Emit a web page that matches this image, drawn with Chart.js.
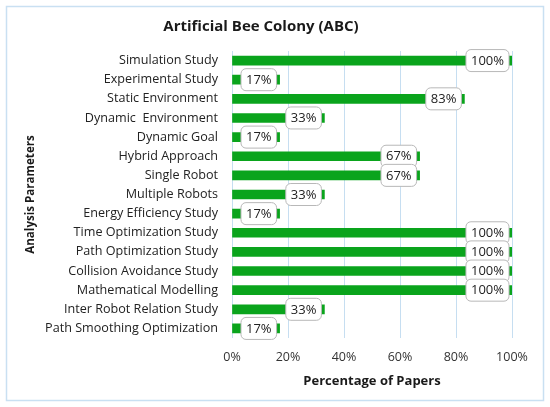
<!DOCTYPE html>
<html><head><meta charset="utf-8">
<script src="https://cdn.jsdelivr.net/npm/chart.js@4"></script>
<style>html,body{margin:0;padding:0;background:#fff}#wrap{width:550px;height:407px;position:relative}</style>
</head><body><div id="wrap"><canvas id="c" width="550" height="407"></canvas></div>
<script>
const categories = ["Simulation Study","Experimental Study","Static Environment","Dynamic  Environment","Dynamic Goal","Hybrid Approach","Single Robot","Multiple Robots","Energy Efficiency Study","Time Optimization Study","Path Optimization Study","Collision Avoidance Study","Mathematical Modelling","Inter Robot Relation Study","Path Smoothing Optimization"];
const percentages = [100,17,83,33,17,67,67,33,17,100,100,100,100,33,17];
const xTicks = [0,20,40,60,80,100];

const FONT = "'Open Sans', sans-serif";

const frame = {
  id:'frame',
  beforeDraw(chart){
    const ctx = chart.ctx; ctx.save();
    ctx.fillStyle='#fff'; ctx.fillRect(0,0,chart.width,chart.height);
    ctx.strokeStyle='#c9e0f2'; ctx.lineWidth=1.5;
    ctx.strokeRect(6.5,6.5,537,394);
    ctx.restore();
  }
};
const labels = {
  id:'boxlabels',
  afterDatasetsDraw(chart){
    const ctx = chart.ctx; ctx.save();
    ctx.font = "13px "+FONT;
    ctx.textAlign='center'; ctx.textBaseline='middle';
    const meta = chart.getDatasetMeta(0);
    meta.data.forEach((bar,i)=>{
      const txt = percentages[i]+'%';
      const w = ctx.measureText(txt).width + 10, h = 22;
      const x1 = bar.x - 3 - w, y1 = bar.y - h/2;
      ctx.beginPath(); ctx.roundRect(x1,y1,w,h,5);
      ctx.fillStyle='#fff'; ctx.fill();
      ctx.strokeStyle='#b8b8b8'; ctx.lineWidth=1; ctx.stroke();
      ctx.fillStyle='#222'; ctx.fillText(txt, x1+w/2, bar.y+0.5);
    });
    ctx.restore();
  }
};

new Chart(document.getElementById('c'),{
  type:'bar',
  data:{labels:categories,datasets:[{data:percentages,backgroundColor:'#0aa41c',borderWidth:0,barThickness:9}]},
  options:{
    indexAxis:'y',responsive:false,animation:false,
    layout:{padding:{left:10,right:38,top:10,bottom:10}},
    plugins:{legend:{display:false},tooltip:{enabled:false},
      title:{display:true,text:'Artificial Bee Colony (ABC)',color:'#1a1a1a',font:{family:FONT,size:15,weight:'bold'},padding:{top:8,bottom:15}}},
    scales:{
      x:{min:0,max:100,
        afterBuildTicks(s){s.ticks=xTicks.map(v=>({value:v}));},
        ticks:{callback:v=>v+'%',color:'#333',font:{family:FONT,size:12.5},padding:12},
        grid:{color:'#c6def1',drawTicks:false},border:{display:false},
        title:{display:true,text:'Percentage of Papers',color:'#1a1a1a',font:{family:FONT,size:13,weight:'bold'},padding:{top:4,bottom:8}},
        afterFit(s){s.height=59;}
      },
      y:{ticks:{color:'#222',font:{family:FONT,size:12.6},padding:14,autoSkip:false},
        grid:{display:false,drawTicks:false},border:{display:false},
        title:{display:true,text:'Analysis Parameters',color:'#1a1a1a',font:{family:FONT,size:11.6,weight:'bold'},padding:{top:14,bottom:0}},
        afterFit(s){s.width=222;}
      }
    }
  },
  plugins:[frame,labels]
});
</script></body></html>
